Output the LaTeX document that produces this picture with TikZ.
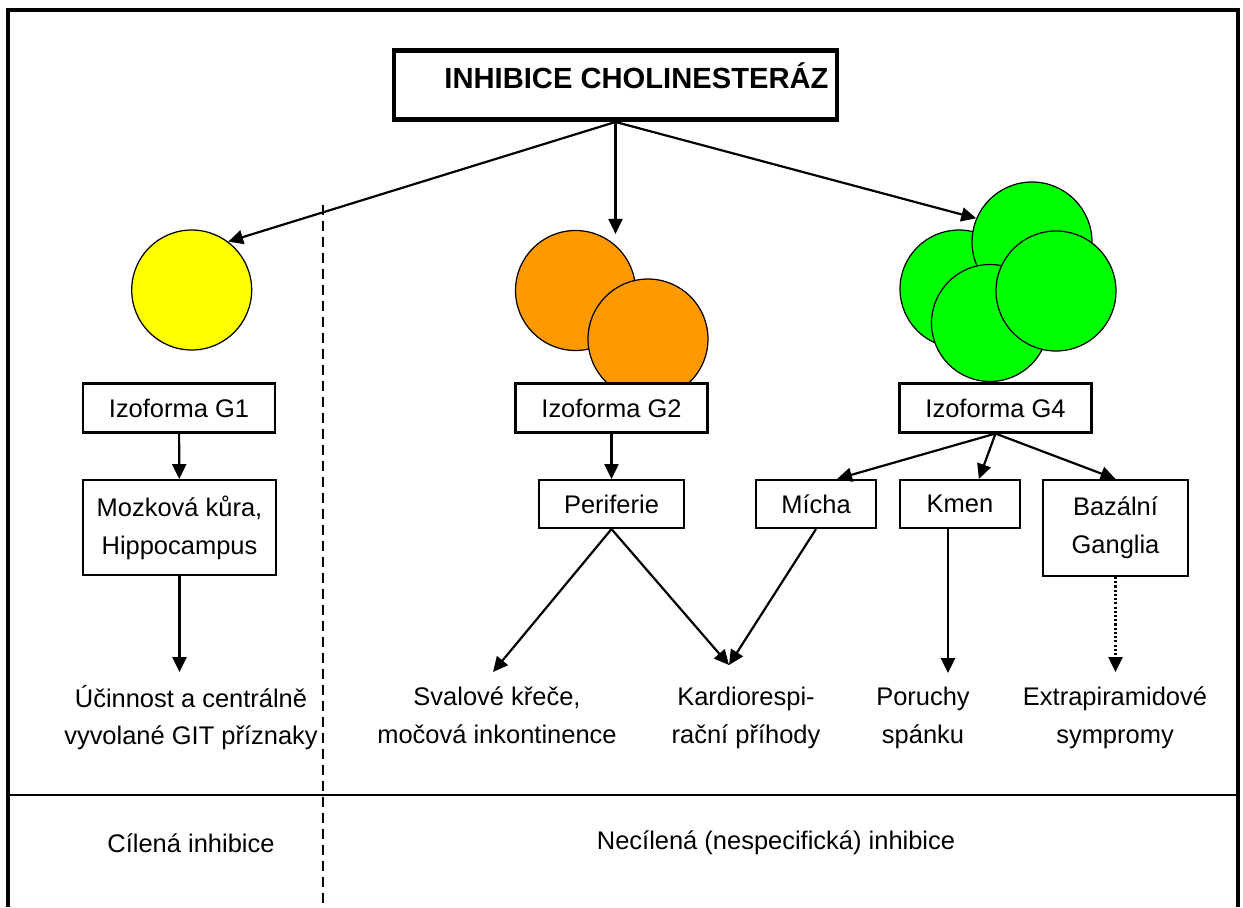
\documentclass[tikz,border=0pt]{standalone}
\usepackage{fontspec}
\setmainfont{Liberation Sans}
\usepackage{tikz}
\usetikzlibrary{arrows.meta, positioning, calc}
\definecolor{myyellow}{RGB}{255,255,0}
\definecolor{myorange}{RGB}{255,153,0}
\definecolor{mygreen}{RGB}{0,255,0}

\begin{document}
\begin{tikzpicture}[x=0.02cm, y=-0.02cm,
    box/.style={draw, line width=1.2pt, fill=white, inner sep=0pt, align=center},
    effect/.style={align=center, inner sep=0pt, text depth=0.12cm},
    ball/.style={draw, circle, line width=0.7pt, inner sep=0pt},
    arr/.style={-{Triangle[length=8.5pt,width=8pt]}, line width=1.25pt}]
    \useasboundingbox (0,0) rectangle (1243,907);
    \fontsize{14.5}{21.5}\selectfont

    % frame
    \draw[line width=2.3pt] (8,907) -- (8,10) -- (1238,10) -- (1238,907);
    \draw[line width=1.3pt] (8,795) -- (1238,795);
    \draw[line width=1.2pt, dash pattern=on 5.7pt off 3.4pt] (323,205) -- (323,907);

    % title
    \node[draw, line width=2.8pt, minimum width=8.8cm, minimum height=1.38cm,
          text height=0.4cm, text depth=0.28cm, font=\fontsize{16.6}{20}\selectfont\bfseries]
          (inh) at (615.5,85) {\hspace*{0.84cm}INHIBICE CHOLINESTERÁZ};

    % G1
    \node[ball, fill=myyellow, minimum size=2.4cm] (g1c) at (191.7,290) {};

    % G2
    \node[ball, fill=myorange, minimum size=2.4cm] (g2a) at (575.5,290.5) {};
    \node[ball, fill=myorange, minimum size=2.4cm] (g2b) at (648,339) {};

    % G4
    \node[ball, fill=mygreen, minimum size=2.36cm] (g4a) at (959,289) {};
    \node[ball, fill=mygreen, minimum size=2.4cm] (g4b) at (1032,242) {};
    \node[ball, fill=mygreen, minimum size=2.34cm] (g4c) at (990,323) {};
    \node[ball, fill=mygreen, minimum size=2.4cm] (g4d) at (1056,291) {};

    % izoformy
    \node[box, minimum width=3.84cm, minimum height=0.98cm] (iso1) at (179,408) {Izoforma G1};
    \node[box, minimum width=3.84cm, minimum height=0.98cm] (iso2) at (611.5,408) {Izoforma G2};
    \node[box, minimum width=3.84cm, minimum height=0.98cm] (iso4) at (995.5,408) {Izoforma G4};

    % mista
    \node[box, minimum width=3.86cm, minimum height=1.9cm] (mozek) at (179.5,527.5) {Mozková kůra,\\Hippocampus};
    \node[box, minimum width=2.9cm, minimum height=0.96cm] (perif) at (611.5,504) {Periferie};
    \node[box, minimum width=2.4cm, minimum height=0.96cm] (micha) at (816,504) {Mícha};
    \node[box, minimum width=2.4cm, minimum height=0.96cm] (kmen) at (960,504) {Kmen};
    \node[box, minimum width=2.9cm, minimum height=1.92cm] (ganglia) at (1115.5,528) {Bazální\\Ganglia};

    % ucinky
    \node[effect] (ucin) at (191,718) {Účinnost a centrálně\\vyvolané GIT příznaky};
    \node[effect] (svalove) at (497,718) {Svalové křeče,\\močová inkontinence};
    \node[effect] (kardio) at (746,718) {Kardiorespi-\\rační příhody};
    \node[effect] (poruchy) at (923,718) {Poruchy\\spánku};
    \node[effect] (extra) at (1115,718) {Extrapiramidové\\sympromy};
    \coordinate (kardtip) at (729,665);

    % inhibice
    \node (cilena) at (191,843) {Cílená inhibice};
    \node (necilena) at (776,843) {Necílená (nespecifická) inhibice};

    % Arrows
    \draw[arr] (inh.south) -- (g1c.53);
    \draw[arr] (inh.south) -- ($(inh.south |- g2a.north)+(0,4)$);
    \draw[arr] (inh.south) -- (g4b.157);
    \draw[arr] (iso1) -- (mozek);
    \draw[arr] (mozek.south) -- (mozek.south |- 0,672);
    \draw[arr] (iso2) -- (perif);
    \draw[arr] (perif.south) -- (493,672);
    \draw[arr] (perif.south) -- (kardtip);
    \draw[arr] (micha.south) -- (kardtip);
    \draw[arr] (iso4.south) -- (micha.50);
    \draw[arr] (iso4.south) -- (kmen.53);
    \draw[arr] (iso4.south) -- (ganglia.north);
    \draw[arr] ($(kmen.south)+(-12,0)$) -- ($(kmen.south)+(-12,144)$);
    \draw[arr, dash pattern=on 1.2pt off 1.2pt] (ganglia.south) -- (ganglia.south |- 0,672);
\end{tikzpicture}
\end{document}
